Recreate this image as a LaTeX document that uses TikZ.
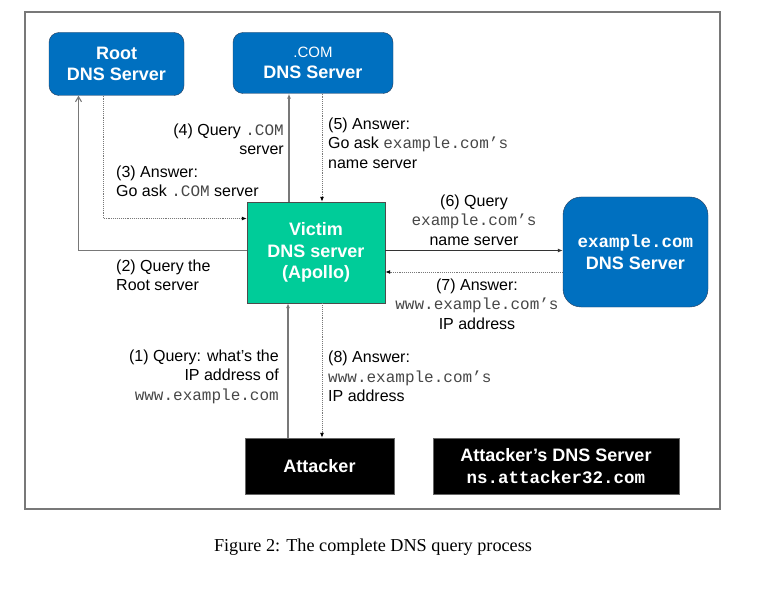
\documentclass[tikz,border=0pt]{standalone}
\usepackage{fontspec}
\setmainfont{Liberation Sans}
\setmonofont{Liberation Mono}
\newfontfamily\capfont{Liberation Serif}
\usepackage{xcolor}
\usetikzlibrary{positioning,arrows.meta,calc}

\definecolor{srvblue}{RGB}{0,112,192}
\definecolor{srvedge}{RGB}{40,60,90}
\definecolor{victimgreen}{RGB}{0,204,153}
\definecolor{linegray}{RGB}{120,120,120}

\newcommand{\lbl}{\fontsize{16}{19.5}\selectfont}
\newcommand{\boxtxt}{\fontsize{18}{21.5}\selectfont\bfseries}
\newcommand{\cod}[1]{{\ttfamily\color{black!72}#1}}

\begin{document}
\begin{tikzpicture}[x=1pt,y=-1pt,
    server/.style={draw=srvedge, fill=srvblue, text=white, rounded corners=10pt,
        align=center, font=\boxtxt, inner sep=0pt},
    victim/.style={draw=black!70, fill=victimgreen, text=white,
        align=center, font=\boxtxt, inner sep=0pt},
    blackbox/.style={draw=black!60, fill=black, text=white,
        align=center, font=\boxtxt, inner sep=0pt},
    query/.style={linegray, line width=1.1pt, -{Latex[length=5pt,width=4pt]}},
    answer/.style={linegray, densely dotted, line width=0.9pt, -{Latex[length=5pt,width=4pt,black]}},
    note/.style={font=\lbl, inner sep=0pt}]
\useasboundingbox (0,0) rectangle (764,599);

% Frame
\draw[linegray, line width=1.5pt] (25,12) rectangle (720,509);

% Servers
\node[server, minimum width=135pt, minimum height=63pt] (root) at (116.5,64)
    {Root\\DNS Server};
\node[server, minimum width=160pt, minimum height=61pt] (com) at (313,63)
    {{\mdseries\fontsize{15}{21.5}\selectfont .COM}\\DNS Server};
\node[victim, minimum width=138pt, minimum height=101pt] (victim) at (316,252.5)
    {Victim\\DNS server\\(Apollo)};
\node[server, rounded corners=18pt, minimum width=145pt, minimum height=110pt] (excom) at (635.5,252)
    {{\ttfamily\fontsize{17.5}{23}\selectfont example.com}\\DNS Server};
\node[blackbox, minimum width=149pt, minimum height=56pt] (attacker) at (319.5,466)
    {Attacker};
\node[blackbox, minimum width=246pt, minimum height=56pt] (attdns) at (556,466)
    {Attacker’s DNS Server\\{\ttfamily\fontsize{17.5}{21}\selectfont ns.attacker32.com}};

% Arrows
\draw[linegray, line width=1.1pt, -{Straight Barb[length=5pt,width=6pt]}]
    ([yshift=2pt]victim.west) -| ([xshift=-38pt]root.south);
\draw[answer] ([xshift=-13.5pt]root.south) |- ([yshift=34pt]victim.west);
\draw[query] ([xshift=-27pt]victim.north) -- ([xshift=-27pt]victim.north |- com.south);
\draw[answer] ([xshift=6pt]victim.north |- com.south) -- ([xshift=6pt]victim.north);
\draw[query, black!80] ([yshift=2pt]victim.east) -- ([yshift=2pt]victim.east -| excom.west);
\draw[answer] ([yshift=-19.5pt]victim.east -| excom.west) -- ([yshift=-19.5pt]victim.east);
\draw[query] ([xshift=-28pt]victim.south |- attacker.north) -- ([xshift=-28pt]victim.south);
\draw[answer] ([xshift=6pt]victim.south) -- ([xshift=6pt]victim.south |- attacker.north);

% Labels
\node[note, anchor=east, align=right] (q4) at (284,139.5)
    {(4) Query \cod{.COM}\\server};
\node[note, anchor=west, align=left] (a5) at (328,143)
    {(5) Answer:\\Go ask \cod{example.com’s}\\name server};
\node[note, anchor=west, align=left] (a3) at (116,181.5)
    {(3) Answer:\\Go ask \cod{.COM} server};
\node[note, anchor=west, align=left] (q2) at (116,275.5)
    {(2) Query the\\Root server};
\node[note, align=center] (q6) at (474,220)
    {(6) Query\\\cod{example.com’s}\\name server};
\node[note, align=center] (a7) at (477,304)
    {(7) Answer:\\\cod{www.example.com’s}\\IP address};
\node[note, anchor=east, align=right] (q1) at (279,376.5)
    {(1) Query: what's the\\IP address of\\\cod{www.example.com}};
\node[note, anchor=west, align=left] (a8) at (328,376.5)
    {(8) Answer:\\\cod{www.example.com’s}\\IP address};

% Caption
\node[font=\capfont\fontsize{18.2}{21}\selectfont] (cap) at (373,547)
    {Figure 2: The complete DNS query process};
\end{tikzpicture}
\end{document}
